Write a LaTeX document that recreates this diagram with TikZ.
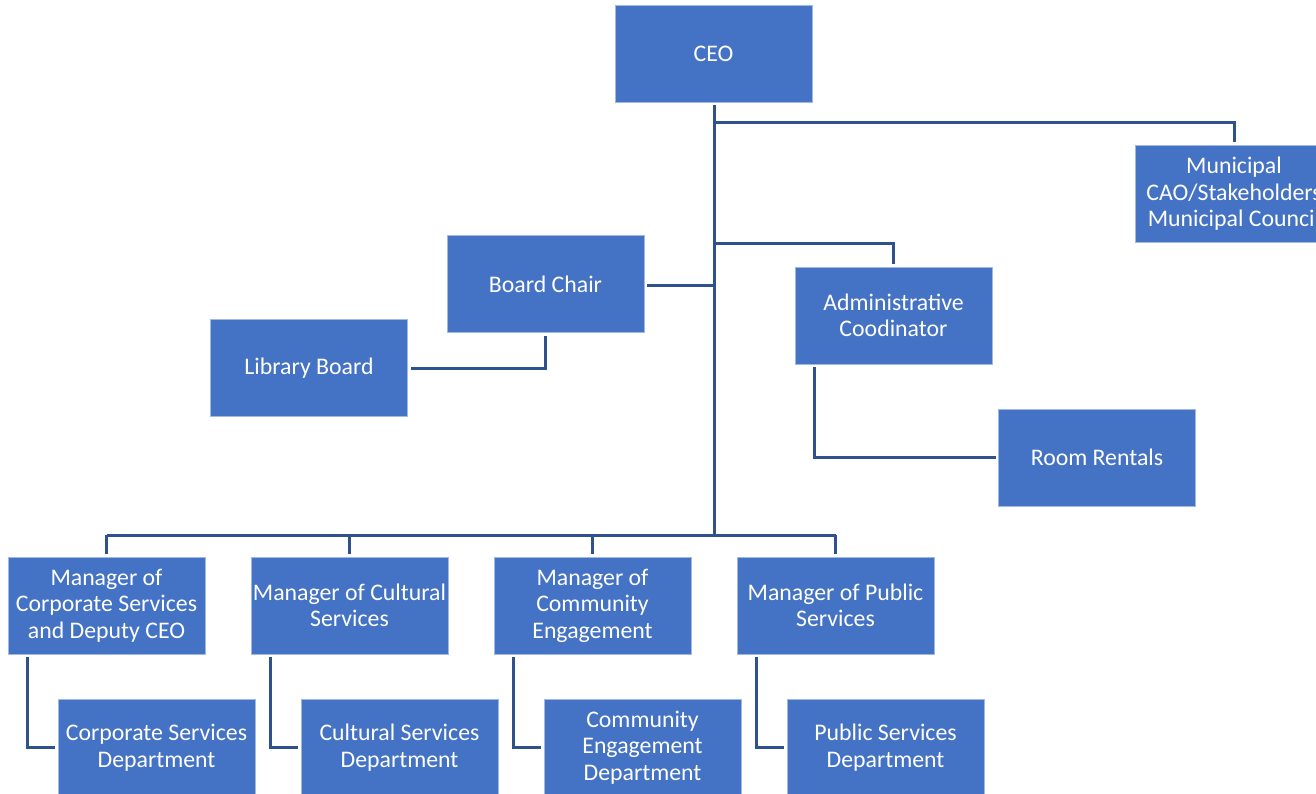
\documentclass[tikz,border=0pt]{standalone}
\usepackage{fontspec}
\setmainfont{Carlito}
\begin{document}
\begin{tikzpicture}[x=1pt,y=-1pt,
  orgbox/.style={rectangle, fill={rgb,255:red,68;green,114;blue,196},
    draw={rgb,255:red,160;green,185;blue,226}, line width=0.8pt,
    minimum width=197pt, minimum height=97pt, inner sep=0pt, outer sep=3pt,
    text=white, align=center, font=\fontsize{23.8}{26.5}\selectfont},
  link/.style={draw={rgb,255:red,47;green,82;blue,143}, line width=3pt}]
\useasboundingbox (0,0) rectangle (1316,794);
\clip (0,0) rectangle (1316,794);

% boxes
\node[orgbox] (ceo) at (713.5,54) {CEO};
\node[orgbox] (muni) at (1234,194) {Municipal\\CAO/Stakeholders\\Municipal Council};
\node[orgbox] (chair) at (545.5,284) {Board Chair};
\node[orgbox] (lib) at (309,368) {Library Board};
\node[orgbox] (admin) at (893.5,315.5) {Administrative\\Coodinator};
\node[orgbox] (rooms) at (1097,457.5) {Room Rentals};

\node[orgbox] (mcorp) at (106.5,605.5) {Manager of\\Corporate Services\\and Deputy CEO};
\node[orgbox] (mcult) at (349.5,605.5) {Manager of Cultural\\Services};
\node[orgbox] (mcomm) at (592.5,605.5) {Manager of\\Community\\Engagement};
\node[orgbox] (mpub) at (835.5,605.5) {Manager of Public\\Services};

\node[orgbox] (dcorp) at (156.5,747.5) {Corporate Services\\Department};
\node[orgbox] (dcult) at (399.5,747.5) {Cultural Services\\Department};
\node[orgbox] (dcomm) at (642.5,747.5) {Community\\Engagement\\Department};
\node[orgbox] (dpub) at (885.5,747.5) {Public Services\\Department};

% junction points on the CEO trunk
\coordinate (j1) at (714,123);
\coordinate (j2) at (714,244);
\coordinate (j3) at (714,285);
\coordinate (bus) at (714,535);

% trunk and upper branches
\draw[link] (ceo.south -| bus) -- (bus);
\draw[link] (j1) -| (muni.north);
\draw[link] (j2) -| (admin.north);
\draw[link] (j3) -- (chair.east |- j3);
\draw[link] (chair.south) |- (lib.east);
\draw[link] ([xshift=22pt]admin.south west) |- (rooms.west);

% lower bus to the managers
\draw[link] (mcorp.north |- bus) -- (mpub.north |- bus);
\foreach \m in {mcorp,mcult,mcomm,mpub}
  \draw[link] (\m.north |- bus) -- (\m.north);

% managers to their departments
\draw[link] ([xshift=22pt]mcorp.south west) |- (dcorp.west);
\draw[link] ([xshift=22pt]mcult.south west) |- (dcult.west);
\draw[link] ([xshift=22pt]mcomm.south west) |- (dcomm.west);
\draw[link] ([xshift=22pt]mpub.south west) |- (dpub.west);
\end{tikzpicture}
\end{document}
